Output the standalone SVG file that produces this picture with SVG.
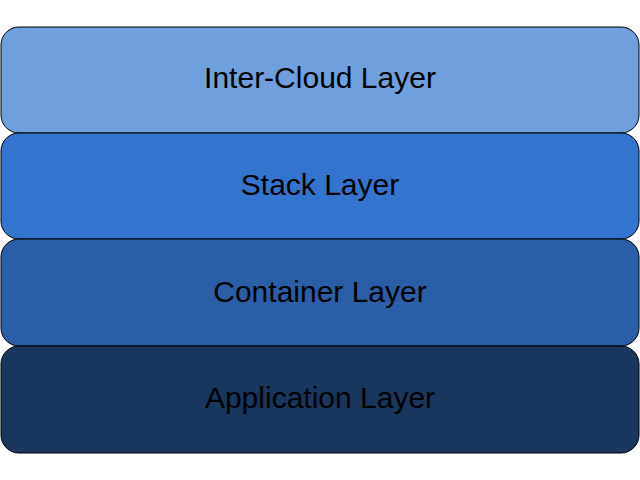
<svg xmlns="http://www.w3.org/2000/svg" width="640" height="480" viewBox="0 0 640 480">
<style>
.box{stroke:#000;stroke-width:1}
.lbl{font-family:"Liberation Sans",Arial,sans-serif;font-size:30px;fill:#000;text-anchor:middle}
</style>
<rect width="640" height="480" fill="#fff"/>
<g id="inter-cloud"><rect class="box" x="1" y="27" width="638" height="106" rx="18" fill="#6f9fdc"/><text class="lbl" x="320" y="88">Inter-Cloud Layer</text></g>
<g id="stack"><rect class="box" x="1" y="133" width="638" height="106" rx="18" fill="#3374ce"/><text class="lbl" x="320" y="195">Stack Layer</text></g>
<g id="container"><rect class="box" x="1" y="239" width="638" height="107" rx="18" fill="#2a5ea6"/><text class="lbl" x="320" y="302">Container Layer</text></g>
<g id="application"><rect class="box" x="1" y="346" width="638" height="107" rx="18" fill="#18365e"/><text class="lbl" x="320" y="408">Application Layer</text></g>
<g id="connectors"/>
</svg>
